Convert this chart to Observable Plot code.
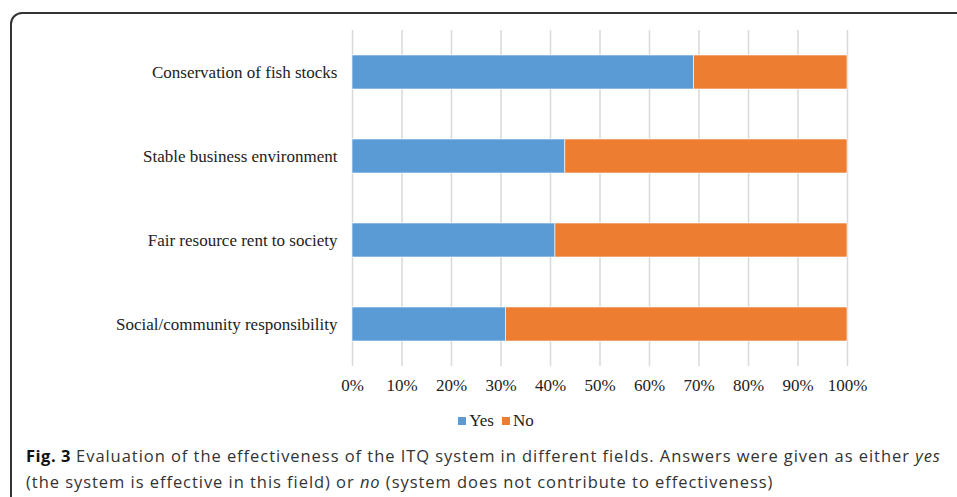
<!DOCTYPE html>
<html>
<head>
<meta charset="utf-8">
<script src="https://cdn.jsdelivr.net/npm/d3@7"></script>
<script src="https://cdn.jsdelivr.net/npm/@observablehq/plot@0.6"></script>
<style>
  html, body { margin: 0; padding: 0; background: #fff; }
  body { width: 957px; height: 497px; overflow: hidden; position: relative; }
  #frame { position: absolute; left: 10px; top: 12px; width: 1000px; height: 600px;
           border: 2px solid #333; border-radius: 12px; box-sizing: border-box; }
  #chart { position: absolute; left: 0; top: 0; }
  #legend { position: absolute; left: 0; top: 411px; width: 992px; display: flex; justify-content: center;
            font-family: "Liberation Serif", serif; font-size: 17px; color: #222; }
  #legend span.item { display: inline-flex; align-items: center; margin: 0 4px; }
  #legend span.sw { display: inline-block; width: 8px; height: 8px; margin-right: 3px; }
  #caption { position: absolute; left: 26px; top: 443px; white-space: nowrap;
             font-family: "Open Sans", sans-serif; font-size: 16.5px; letter-spacing: 0.95px;
             line-height: 26px; color: #333; }
  #caption b { color: #111; letter-spacing: 0.5px; }
</style>
</head>
<body>
<div id="frame"></div>
<div id="chart"></div>
<div id="legend"></div>
<div id="caption"><b>Fig. 3</b> Evaluation of the effectiveness of the ITQ system in different fields. Answers were given as either <i>yes</i><br>(the system is effective in this field) or <i>no</i> (system does not contribute to effectiveness)</div>
<script>
const fields = ["Conservation of fish stocks", "Stable business environment", "Fair resource rent to society", "Social/community responsibility"];
const yesPct = [69, 43, 41, 31];
const noPct = [31, 57, 59, 69];
const answers = ["Yes", "No"];
const answerColors = ["#5b9bd5", "#ed7d31"];
const xTicks = [0, 10, 20, 30, 40, 50, 60, 70, 80, 90, 100];

const data = [
  ...fields.map((f, i) => ({field: f, answer: "Yes", value: yesPct[i]})),
  ...fields.map((f, i) => ({field: f, answer: "No", value: noPct[i]}))
];

const chart = Plot.plot({
  width: 957,
  height: 400,
  marginLeft: 352,
  marginRight: 110,
  marginTop: 30,
  marginBottom: 34,
  style: {fontFamily: "Liberation Serif, serif", fontSize: "17px", color: "#222", background: "transparent"},
  x: {domain: [0, 100], ticks: xTicks, tickFormat: d => d + "%", label: null},
  y: {domain: fields, paddingInner: 0.6, paddingOuter: 0.3, label: null},
  color: {domain: answers, range: answerColors},
  marks: [
    Plot.ruleX(xTicks, {stroke: "#d9d9d9", strokeWidth: 1.5}),
    Plot.barX(data, Plot.stackX({y: "field", x: "value", fill: "answer", order: answers, stroke: "#fff", strokeWidth: 0.6})),
    Plot.axisX({ticks: xTicks, tickSize: 0, tickPadding: 12, tickFormat: d => d + "%", label: null}),
    Plot.axisY({tickSize: 0, tickPadding: 15, label: null})
  ]
});
document.getElementById("chart").appendChild(chart);

const legend = document.getElementById("legend");
answers.forEach((a, i) => {
  const item = document.createElement("span");
  item.className = "item";
  const sw = document.createElement("span");
  sw.className = "sw";
  sw.style.background = answerColors[i];
  item.appendChild(sw);
  item.appendChild(document.createTextNode(a));
  legend.appendChild(item);
});
</script>
</body>
</html>
